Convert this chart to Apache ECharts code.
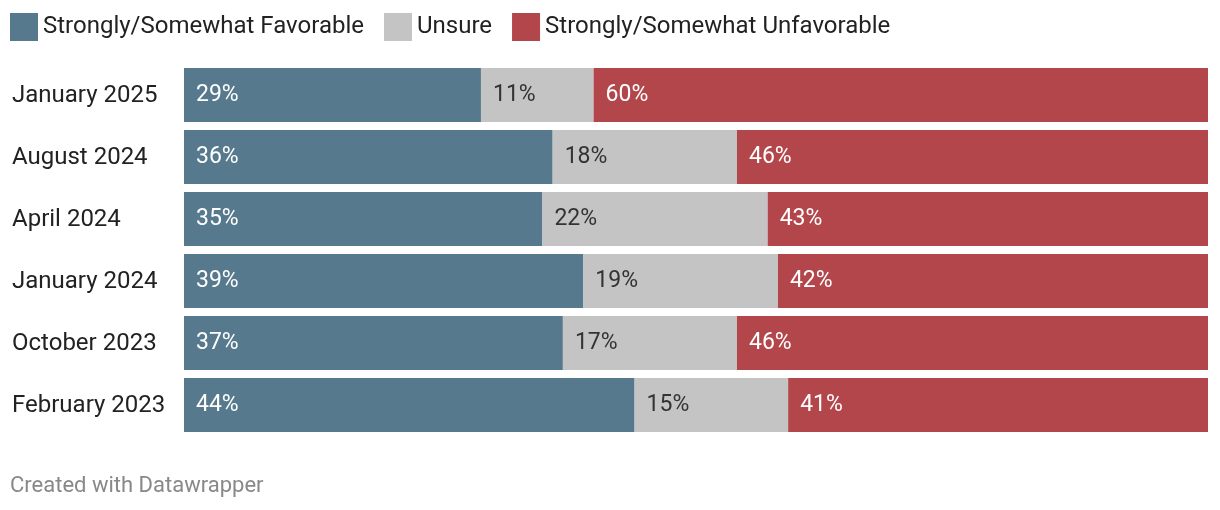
<!DOCTYPE html>
<html><head><meta charset="utf-8">
<script src="https://cdn.jsdelivr.net/npm/echarts@6/dist/echarts.min.js"></script>
<style>html,body{margin:0;padding:0;background:#fff}#c{width:1220px;height:510px}</style>
</head><body><div id="c"></div>
<script>
const categories = ["January 2025","August 2024","April 2024","January 2024","October 2023","February 2023"];
const favorable = [29,36,35,39,37,44];
const unsure = [11,18,22,19,17,15];
const unfavorable = [60,46,43,42,46,41];
const seriesNames = ["Strongly/Somewhat Favorable","Unsure","Strongly/Somewhat Unfavorable"];
const colors = ["#56798d","#c4c4c4","#b3464b"];
const labelColors = ["#ffffff","#333333","#ffffff"];

const chart = echarts.init(document.getElementById('c'), null, {renderer:'canvas'});
const dataSets = [favorable, unsure, unfavorable];
chart.setOption({
  animation:false,
  textStyle:{fontFamily:'Roboto'},
  legend:{
    left:10, top:13, padding:0, itemWidth:28, itemHeight:28, itemGap:20,
    icon:'rect',
    textStyle:{fontSize:24, color:'#222', fontFamily:'Roboto'},
    data:seriesNames
  },
  graphic:[{type:'text', left:10, top:475, style:{text:'Created with Datawrapper', fill:'#888', font:'22px Roboto'}}],
  grid:{left:184, right:12, top:64, bottom:74, containLabel:false},
  xAxis:{type:'value', min:0, max:100, show:false},
  yAxis:{type:'category', data:categories, inverse:true,
    axisLine:{show:false}, axisTick:{show:false},
    axisLabel:{align:'left', verticalAlign:'top', lineHeight:2, margin:172, fontSize:24, color:'#222', fontFamily:'Roboto'}},
  series: dataSets.map((d,i)=>({
    name:seriesNames[i], type:'bar', stack:'t', data:d, barWidth:54,
    itemStyle:{color:colors[i]},
    label:{show:true, position:'insideLeft', distance:12, formatter:'{c}%', fontSize:23, color:labelColors[i], fontFamily:'Roboto'}
  }))
});
</script></body></html>
